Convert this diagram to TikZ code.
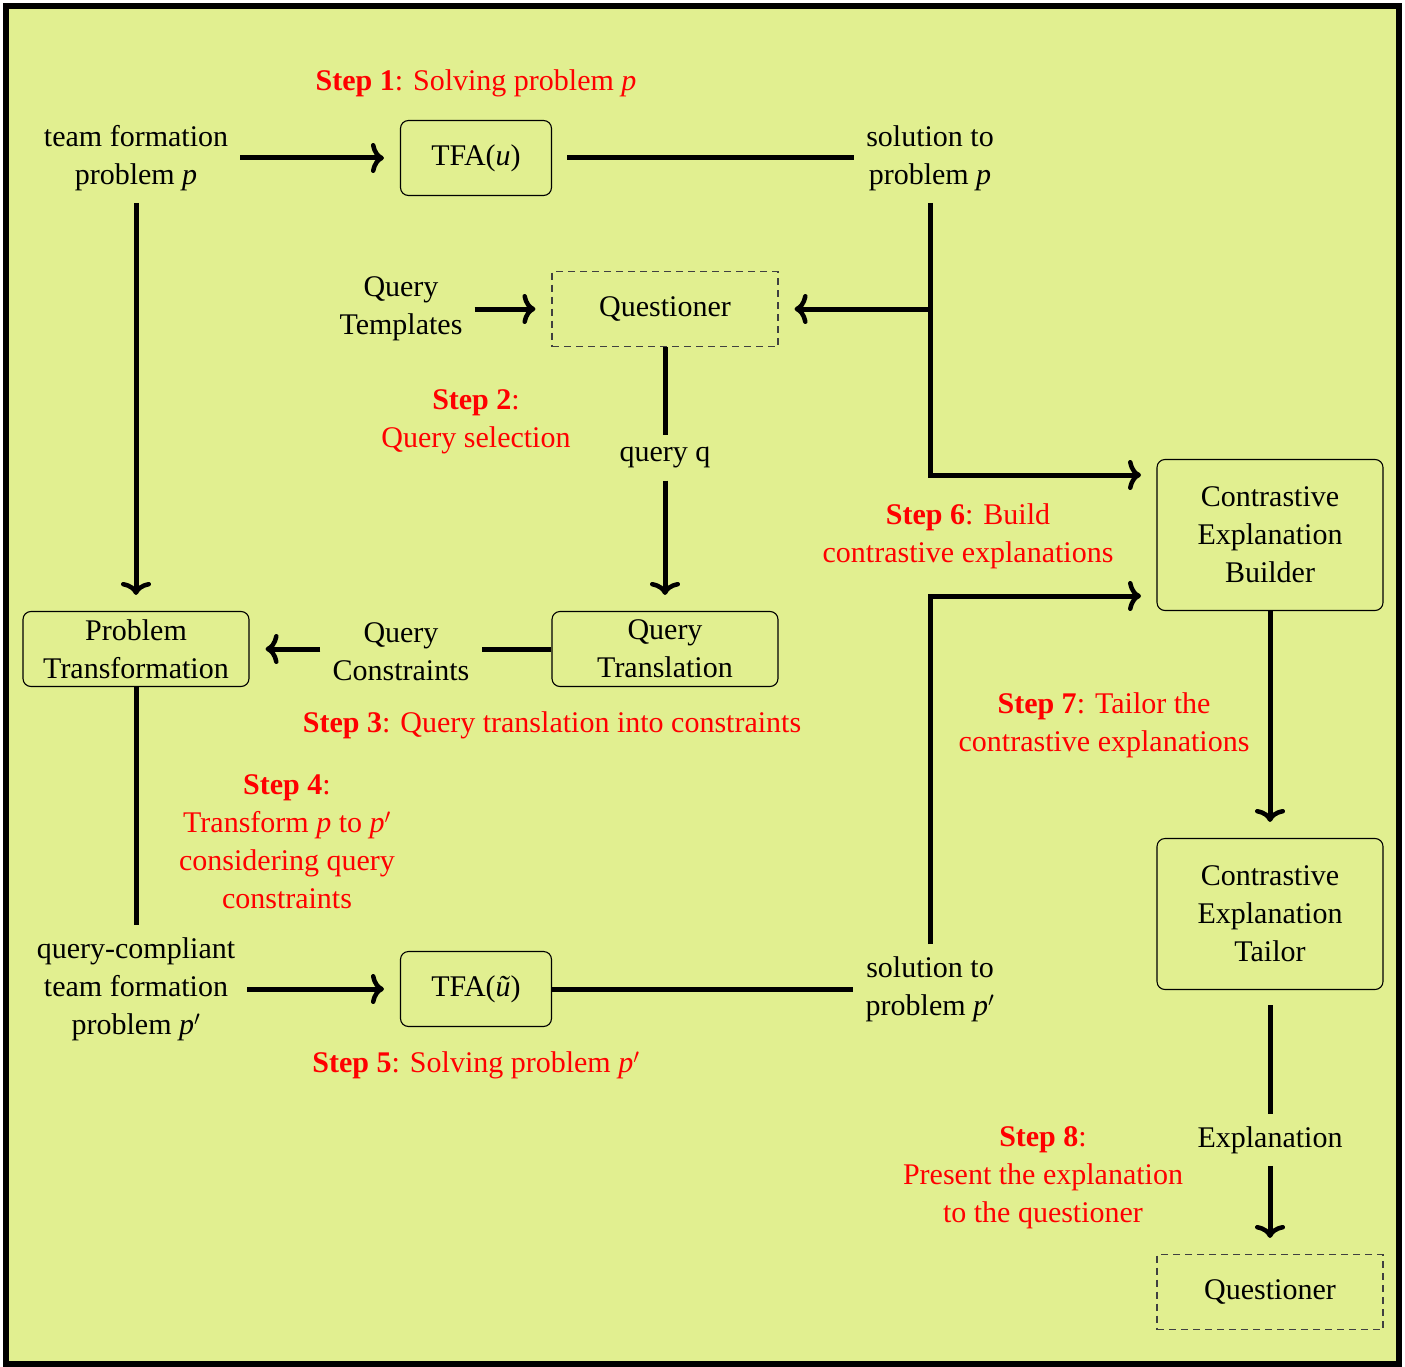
\documentclass[tikz,border=0pt]{standalone}
\usepackage{fontspec}
\setmainfont{Liberation Serif}
\usetikzlibrary{arrows.meta}
\definecolor{panel}{RGB}{225,239,144}
\definecolor{steptext}{RGB}{255,0,0}

\tikzset{
  every node/.style={font=\fontsize{30}{38}\selectfont},
  txt/.style={align=center, inner sep=12pt},
  box/.style={draw, rounded corners=8pt, line width=1.1pt, align=center,
    minimum width=226pt, minimum height=75pt, inner sep=2pt},
  smallbox/.style={box, minimum width=151pt},
  tallbox/.style={box, minimum height=151pt},
  dashbox/.style={draw=black!75, dash pattern=on 7pt off 5pt, line width=1.1pt,
    align=center, minimum width=226pt, minimum height=75pt, inner sep=2pt},
  stepnote/.style={align=center, text=steptext, inner sep=0pt},
  link/.style={line width=5pt},
  flow/.style={link, -{To[length=13pt,width=30pt,line width=4.5pt]}, shorten >=16pt},
}

\begin{document}
\begin{tikzpicture}[x=1pt, y=-1pt]
  \useasboundingbox (0,0) rectangle (1405,1367);
  % panel with heavy frame
  \draw[line width=6pt, fill=panel] (6,6) rectangle (1399,1364);

  % step captions
  \node[stepnote] (s1) at (476,83) {\textbf{Step 1}: Solving problem \textit{p}};
  \node[stepnote] (s2) at (476,422) {\textbf{Step 2}:\\Query selection};
  \node[stepnote] (s3) at (552,725) {\textbf{Step 3}: Query translation into constraints};
  \node[stepnote] (s4) at (287,842) {\textbf{Step 4}:\\Transform \textit{p} to \textit{p}$'$\\considering query\\constraints};
  \node[stepnote] (s5) at (476,1065) {\textbf{Step 5}: Solving problem \textit{p}$'$};
  \node[stepnote] (s6) at (968,536) {\textbf{Step 6}: Build\\contrastive explanations};
  \node[stepnote] (s7) at (1104,725) {\textbf{Step 7}: Tailor the\\contrastive explanations};
  \node[stepnote] (s8) at (1043,1178) {\textbf{Step 8}:\\Present the explanation\\to the questioner};

  % plain labels
  \node[txt] (tfp)  at (136,158) {team formation\\problem \textit{p}};
  \node[txt] (sol1) at (930,158) {solution to\\problem \textit{p}};
  \node[txt] (qt)   at (401,309) {Query\\Templates};
  \node[txt] (qq)   at (665,458) {query q};
  \node[txt] (qc)   at (401,652) {Query\\Constraints};
  \node[txt] (qcp)  at (136,989) {query-compliant\\team formation\\problem \textit{p}$'$};
  \node[txt] (sol2) at (930,989) {solution to\\problem \textit{p}$'$};
  \node[txt] (expl) at (1270,1140) {Explanation};

  % boxes
  \node[smallbox] (tfa)  at (476,158) {TFA(\textit{u})};
  \node[dashbox]  (qs)   at (665,309) {Questioner};
  \node[box]      (qtr)  at (665,649) {Query\\Translation};
  \node[box]      (pt)   at (136,649) {Problem\\Transformation};
  \node[smallbox] (tfa2) at (476,989) {TFA(\textit{ũ})};
  \node[tallbox]  (ceb)  at (1270,535) {Contrastive\\Explanation\\Builder};
  \node[tallbox]  (cet)  at (1270,914) {Contrastive\\Explanation\\Tailor};
  \node[dashbox]  (q2)   at (1270,1292) {Questioner};

  % junction points
  \coordinate (br) at (930,309);
  \coordinate (cebIn1) at (1157,475);
  \coordinate (cebIn2) at (1157,596);

  % connectors
  \draw[flow] (tfp.east |- tfa.west) -- (tfa.west);
  \draw[link, shorten <=15pt] (tfa.east) -- (sol1.west |- tfa.east);
  \draw[flow] (sol1.south) |- (cebIn1);
  \draw[flow] (br) -- (qs.east);
  \draw[flow] (qt.east |- qs.west) -- (qs.west);
  \draw[link] (qs.south) -- (qq.north);
  \draw[flow] (qq.south) -- (qtr.north);
  \draw[link] (qtr.west) -- (qc.east |- qtr.west);
  \draw[flow] (qc.west |- pt.east) -- (pt.east);
  \draw[flow] (tfp.south) -- (pt.north);
  \draw[link] (pt.south) -- (qcp.north);
  \draw[flow] (qcp.east |- tfa2.west) -- (tfa2.west);
  \draw[link] (tfa2.east) -- (sol2.west |- tfa2.east);
  \draw[flow] (sol2.north) |- (cebIn2);
  \draw[flow] (ceb.south) -- (cet.north);
  \draw[link, shorten <=15pt] (cet.south) -- (expl.north);
  \draw[flow] (expl.south) -- (q2.north);
\end{tikzpicture}
\end{document}
